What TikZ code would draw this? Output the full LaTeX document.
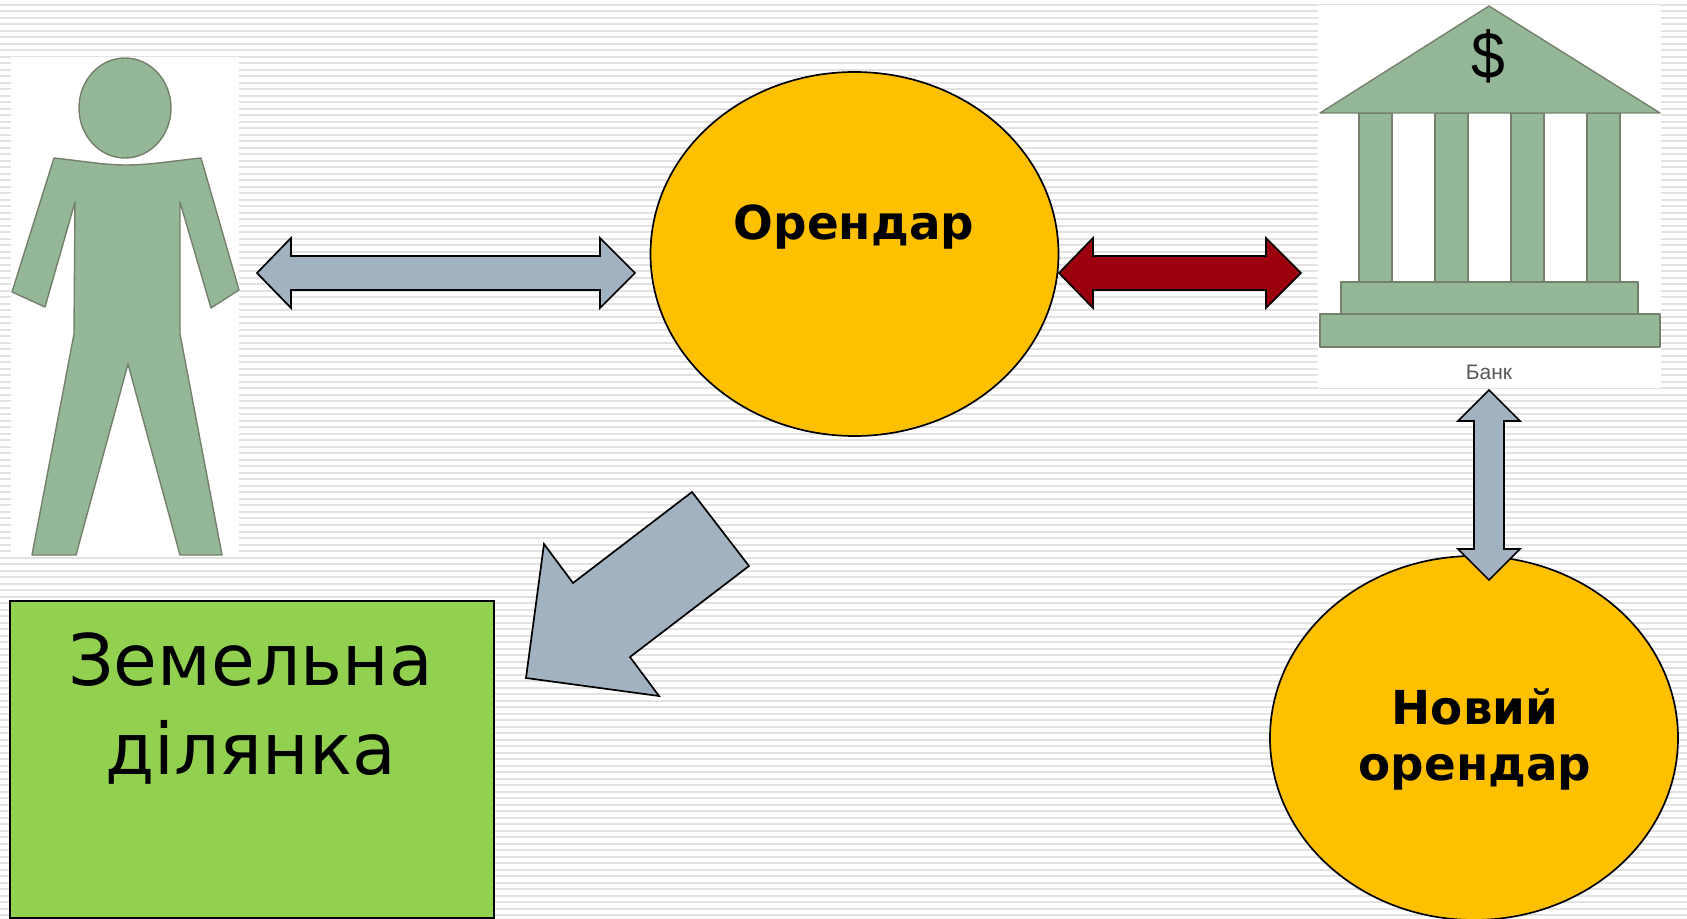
\documentclass[tikz,border=0pt]{standalone}
\usepackage{fontspec}
\setmainfont{DejaVu Sans}
\newfontfamily\banksans{Liberation Sans}
\definecolor{figgreen}{HTML}{94B798}
\definecolor{figedge}{HTML}{75806C}
\definecolor{blockblue}{HTML}{A2B2C1}
\definecolor{blockred}{HTML}{9C000F}
\definecolor{gold}{HTML}{FFC000}
\definecolor{plot}{HTML}{92D050}
\definecolor{stripe}{HTML}{E2E2E2}
\tikzset{
  figure/.style={fill=figgreen,draw=figedge,line width=0.7pt,line join=round},
  blockarrow/.style={draw=black,line width=0.85pt,fill=blockblue,line join=miter},
  actor/.style={ellipse,draw=black,line width=0.85pt,fill=gold,minimum width=204pt,minimum height=182pt,inner sep=0pt},
  boldlabel/.style={font=\fontsize{23.4}{27}\selectfont\bfseries,align=center,text=black},
}
\usetikzlibrary{shapes.geometric}
\begin{document}
\begin{tikzpicture}[x=0.5pt,y=-0.5pt]
\useasboundingbox (0,0) rectangle (1687,919);
\fill[white] (0,0) rectangle (1687,919);
\foreach \k in {0,...,140}{
  \fill[stripe] (0,{4+6.5*\k}) rectangle (1687,{6+6.5*\k});
}
% person
\fill[white] (11,57) rectangle (239,557);
\draw[figure] (125,108) ellipse [x radius=46,y radius=50];
\draw[figure] (54,158) .. controls (90,162) and (105,165) .. (126,165) .. controls (147,165) and (165,162) .. (201,158)
  -- (239,290) -- (211,308) -- (180,202) -- (180,334) -- (222,555) -- (180,555) -- (128,364) -- (76,555) -- (32,555) -- (74,334) -- (75,202) -- (45,307) -- (12,292) -- cycle;
% bank
\fill[white] (1318,5) rectangle (1661,388);
\foreach \x in {1359,1435,1511,1587}{
  \draw[figure] (\x,113) rectangle (\x+33,282);
}
\draw[figure] (1341,282) rectangle (1638,314);
\draw[figure] (1320,314) rectangle (1660,347);
\draw[figure] (1489,6) -- (1660,113) -- (1320,113) -- cycle;
\node[xscale=0.92] (dollar) at (1488.5,56) {\banksans\fontsize{33}{33}\selectfont\$};
\node[text=black!65] (banklabel) at (1489,372) {\banksans\fontsize{10.5}{12}\selectfont Банк};
% actors
\node[actor] (tenant) at (854.5,254) {};
\node[boldlabel] (tenanttext) at (854,227) {Орендар};
\node[actor] (newtenant) at (1474,738) {};
\node[boldlabel] (newtenanttext) at (1475,739) {Новий\\[1pt]орендар};
% land
\node[draw=black,line width=0.85pt,fill=plot,minimum width=242pt,minimum height=158.5pt,inner sep=0pt] (land) at (252,759.5) {};
\node[align=center,font=\fontsize{35.6}{44.5}\selectfont] (landtext) at (250.5,708) {Земельна\\ділянка};
% arrows
\draw[blockarrow] (257,273) -- (291,238) -- (291,256) -- (600,256) -- (600,238) -- (635,273) -- (600,308) -- (600,290) -- (291,290) -- (291,308) -- cycle;
\draw[blockarrow,fill=blockred] (1059,273) -- (1093,238) -- (1093,256) -- (1266,256) -- (1266,238) -- (1301,273) -- (1266,308) -- (1266,290) -- (1093,290) -- (1093,308) -- cycle;
\draw[blockarrow] (1489,390) -- (1520,421) -- (1504,421) -- (1504,549) -- (1520,549) -- (1489,580) -- (1458,549) -- (1474,549) -- (1474,421) -- (1458,421) -- cycle;
\draw[blockarrow] (692,492) -- (749,566) -- (630,657) -- (659,696) -- (526,678) -- (544,544) -- (573,583) -- cycle;
\end{tikzpicture}
\end{document}
